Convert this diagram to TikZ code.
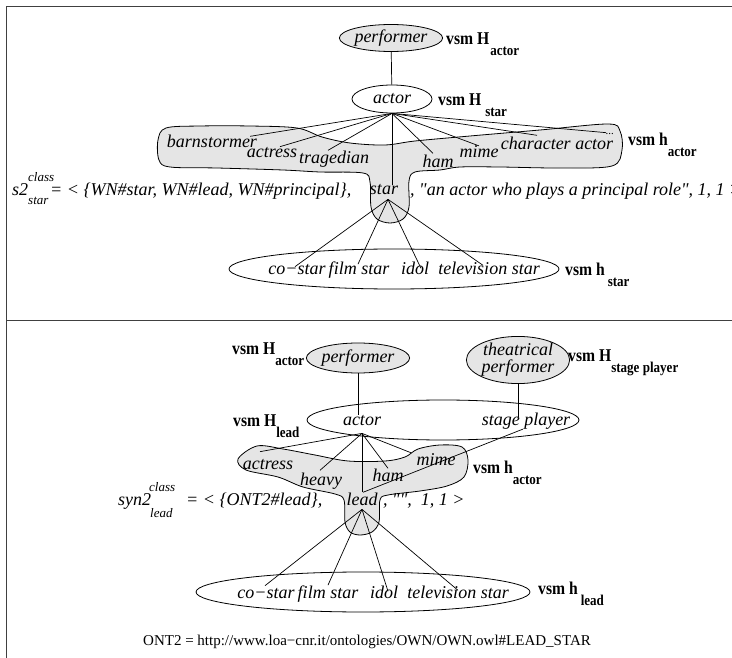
\documentclass[tikz,border=0pt]{standalone}
\usepackage{fontspec}
\setmainfont{Liberation Serif}[Ligatures=TeXOff]
\usetikzlibrary{shapes.geometric}
\definecolor{gfill}{gray}{0.9}
\newcommand{\vsmlab}[3]{\scalebox{0.87}[1]{\fontsize{18}{20}\selectfont\bfseries vsm #1}\hspace*{#3}\raisebox{-11pt}{\scalebox{0.87}[1]{\fontsize{15}{17}\selectfont\bfseries #2}}}
\newcommand{\itf}{\fontsize{18}{21}\selectfont\itshape}
\newcommand{\smit}{\fontsize{13}{15}\selectfont\itshape}
\begin{document}
\begin{tikzpicture}[x=1pt,y=-1pt,
  it/.style={font=\itf, inner sep=0pt, anchor=base},
  lbl/.style={inner sep=0pt, anchor=base west},
  ell/.style={ellipse, draw, inner sep=0pt, line width=0.8pt, font=\itf},
  gell/.style={ell, fill=gfill},
  conn/.style={line width=0.7pt},
  blob/.style={draw, fill=gfill, line width=0.8pt},
  frame/.style={line width=0.9pt, black!75}]
\useasboundingbox (0,0) rectangle (732,658);
\clip (0,0) rectangle (732,658);
\fill[white] (0,0) rectangle (732,658);
% frame
\draw[frame] (732,6) -- (6,6) -- (6,658);
\draw[frame] (6,320) -- (732,320);

% ================= TOP PANEL =================
\node[gell, minimum width=98pt, minimum height=27pt] (perfA) at (391,38) {performer};
\node[ell, minimum width=80pt, minimum height=28pt] (actorA) at (392,99) {actor};
\node[lbl] (vA1) at (446,45) {\vsmlab{H}{actor}{1pt}};
\node[lbl] (vA2) at (438,106) {\vsmlab{H}{star}{4pt}};
\draw[conn] (perfA) -- (actorA);

\draw[blob] plot[smooth cycle, tension=0.55] coordinates {
 (166,128) (200,126) (250,126) (297,128) (322,137) (350,143) (385,145)
 (415,141) (470,136) (540,130) (608,124) (620,131) (622,150) (612,166)
 (560,168) (500,167) (460,167) (440,170) (415,172) (409,181) (409,207)
 (403,219) (390,223) (377,219) (371,207) (370,182) (363,173) (320,172)
 (283,170) (217,168) (170,167) (159,160) (158,140)};

\node[it] (barn) at (212,148) {barnstormer};
\node[it] (actrA) at (272,158) {actress};
\node[it] (trag) at (334,164) {tragedian};
\node[it] (starA) at (384,195) {star};
\node[it] (hamA) at (438,168) {ham};
\node[it] (mimeA) at (479,158) {mime};
\node[it] (charA) at (557,150) {character actor};
\node[it, font=\fontsize{11}{12}\selectfont\itshape] (dotsA) at (610,135) {...};
\node[lbl] (vA3) at (628,146) {\vsmlab{h}{actor}{0pt}};

\coordinate (fanA) at (actorA.south);
\draw[conn] (fanA) -- ([shift={(-7,1)}]barn.north east);
\draw[conn] (fanA) -- ([shift={(8,-1)}]actrA.north);
\draw[conn] (fanA) -- ([shift={(-6,-1)}]trag.north);
\draw[conn] (fanA) -- (fanA |- starA.north);
\draw[conn] (fanA) -- ([shift={(-5,-2)}]hamA.north);
\draw[conn] (fanA) -- (mimeA.north);
\draw[conn] (fanA) -- ([shift={(-20,-2)}]charA.north);
\draw[conn] (fanA) -- ([shift={(-4,-1)}]dotsA.north);

% formula
\node[lbl, font=\itf] (s2) at (12,196) {s2};
\node[lbl, font=\smit] (s2c) at (28,182) {class};
\node[lbl, font=\smit] (s2s) at (28,205) {star};
\node[lbl, font=\itf] (fA1) at (50,196) {= < \{WN\#star, WN\#lead, WN\#principal\},};
\node[lbl, font=\itf] (fA2) at (410,196) {, "an actor who plays a principal role", 1, 1 >};

% lower ellipse
\node[ell, minimum width=330pt, minimum height=40pt] (hypA) at (394,269) {};
\node[it] (coA) at (297,275) {co−star};
\node[it] (filmA) at (359,275) {film star};
\node[it] (idolA) at (415,275) {idol};
\node[it] (tvA) at (489,275) {television star};
\node[lbl] (vA4) at (565,276) {\vsmlab{h}{star}{3pt}};

\coordinate (fanS) at ([shift={(4,4)}]starA.south);
\draw[conn] (fanS) -- ([shift={(-2,2)}]coA.north);
\draw[conn] (fanS) -- ([shift={(-1,2)}]filmA.north);
\draw[conn] (fanS) -- ([shift={(6,6)}]idolA.north);
\draw[conn] (fanS) -- ([shift={(-6,3)}]tvA.north);

% ================= BOTTOM PANEL =================
\node[lbl] (vB1) at (232,354) {\vsmlab{H}{actor}{0pt}};
\node[gell, minimum width=100pt, minimum height=30pt] (perfB) at (358,358) {performer};
\node[gell, minimum width=99pt, minimum height=44pt, align=center,
      font=\fontsize{18}{17}\selectfont\itshape] (theat) at (518,360) {theatrical\\performer};
\node[lbl] (vB2) at (568,361) {\vsmlab{H}{stage player}{0pt}};

\node[ell, minimum width=272pt, minimum height=40pt] (hypB) at (443,420) {};
\node[it] (actorB) at (362,425) {actor};
\node[it] (spB) at (526,425) {stage player};
\node[lbl] (vB3) at (233,426) {\vsmlab{H}{lead}{0pt}};
\draw[conn] (perfB.south) -- (perfB.south |- actorB.north);
\draw[conn] (theat.south) -- ([yshift=-5pt]theat.south |- spB.north);

\draw[blob] plot[smooth cycle, tension=0.55] coordinates {
 (257,446) (283,449) (315,455) (348,461) (385,461) (405,457) (418,449)
 (440,445) (462,447) (468,460) (464,477) (447,486) (420,491) (388,495)
 (380,500) (379,522) (372,532) (360,535) (350,532) (345,522) (344,500)
 (335,494) (303,487) (278,477) (246,470) (238,459)};

\node[it] (actrB) at (268,469) {actress};
\node[it] (heavy) at (321,485) {heavy};
\node[it] (hamB) at (388,481) {ham};
\node[it] (mimeB) at (436,465) {mime};
\node[it] (leadB) at (362,505) {lead};
\node[lbl] (vB4) at (473,473) {\vsmlab{h}{actor}{0pt}};

\coordinate (fanB) at ([yshift=-8pt]actorB.south);
\draw[conn] (fanB) -- ([shift={(-8,-7)}]actrB.north);
\draw[conn] (fanB) -- ([shift={(-1,-2)}]heavy.north);
\draw[conn] (fanB) -- (fanB |- leadB.north);
\draw[conn] (fanB) -- (hamB.north);
\draw[conn] (fanB) -- ([xshift=-5pt]mimeB.north west);
\draw[conn] ([xshift=-3pt]spB.south) -- ([xshift=1pt]leadB.north);

% formula
\node[lbl, font=\itf] (syn) at (118,505) {syn2};
\node[lbl, font=\smit] (sync) at (149,491) {class};
\node[lbl, font=\smit] (synl) at (150,517) {lead};
\node[lbl, font=\itf] (fB1) at (186,505) {= < \{ONT2\#lead\},};
\node[lbl, font=\itf] (fB2) at (383,505) {, "",\ \ 1, 1 >};

% lower ellipse
\node[ell, minimum width=334pt, minimum height=40pt] (hypC) at (363,592) {};
\node[it] (coB) at (266,598) {co−star};
\node[it] (filmB) at (328,598) {film star};
\node[it] (idolB) at (384,598) {idol};
\node[it] (tvB) at (458,598) {television star};
\node[lbl] (vB5) at (538,594) {\vsmlab{h}{lead}{3pt}};

\coordinate (fanL) at ([yshift=-4pt]leadB.south);
\draw[conn] (fanL) -- ([shift={(-1,-2)}]coB.north);
\draw[conn] (fanL) -- (filmB.north);
\draw[conn] (fanL) -- ([shift={(4,6)}]idolB.north);
\draw[conn] (fanL) -- ([yshift=-5pt]tvB.north);

\node[lbl, font=\fontsize{15}{18}\selectfont] (ont) at (143,645) {ONT2 = http://www.loa−cnr.it/ontologies/OWN/OWN.owl\#LEAD\_STAR};
\end{tikzpicture}
\end{document}
